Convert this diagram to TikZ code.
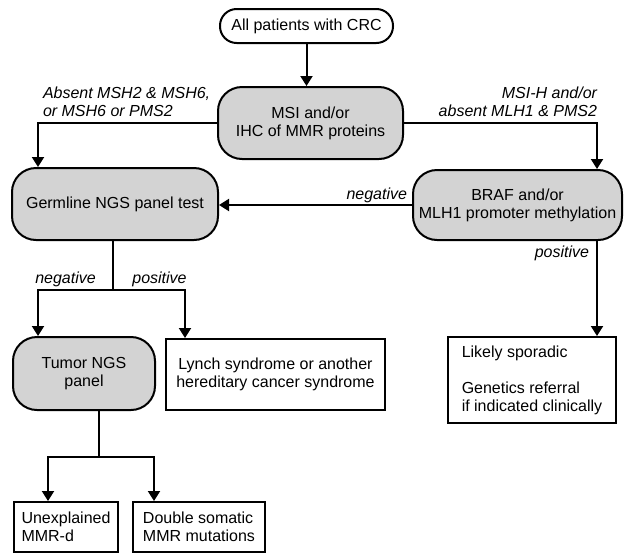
\documentclass[tikz,border=0pt]{standalone}
\usepackage{fontspec}
\setmainfont{Liberation Sans}
\usetikzlibrary{arrows.meta}
\definecolor{testgray}{RGB}{211,211,211}

\tikzset{%
          start pill/.style={
            draw,
            rounded corners=12.5pt,
            minimum width=129.75pt,
            minimum height=25.5pt,
            inner sep=0pt
          },
          test node/.style={
            draw,
            fill=testgray,
            rounded corners=18pt,
            align=center,
            inner sep=0pt
          },
          result box/.style={
            draw,
            align=left,
            inner sep=0pt
          },
          branch label/.style={
            font=\fontsize{12}{13.5}\selectfont\itshape,
            inner sep=0pt
          },
        }

\begin{document}
\begin{tikzpicture}[x=0.75pt, y=-0.75pt, >={Triangle[width=9pt,length=7.5pt]}, line width=1.5pt, font=\fontsize{12}{13.5}\selectfont]
        \useasboundingbox (0,0) rectangle (624,554);

        \node [start pill] (all-crc) at (306.5,26) {All patients with CRC};
        \node [test node, minimum width=138.75pt, minimum height=54pt] (msi-ihc) at (310.5,123) {MSI and/or\\IHC of MMR proteins};
        \node [test node, minimum width=154.5pt, minimum height=54pt] (germline) at (115,204) {Germline NGS panel test};
        \node [test node, minimum width=156.75pt, minimum height=52.5pt] (braf) at (517.5,205) {BRAF and/or\\MLH1 promoter methylation};
        \node [test node, minimum width=106.5pt, minimum height=54.75pt] (tumor) at (84,373.5) {Tumor NGS\\panel};

        \node [result box, align=center, minimum width=164.25pt, minimum height=53.25pt] (lynch) at (275.5,374.5) {Lynch syndrome or another\\hereditary cancer syndrome};
        \node [result box, minimum width=126pt, minimum height=64.5pt] (sporadic) at (532,380) {Likely sporadic\\[13.5pt]Genetics referral\\if indicated clinically};
        \node [result box, minimum width=78pt, minimum height=37.5pt] (unexplained) at (66,527) {Unexplained\\MMR-d};
        \node [result box, minimum width=99pt, minimum height=37.5pt] (somatic) at (199,527) {Double somatic\\MMR mutations};

        \coordinate (left-drop) at (38,0);
        \coordinate (right-drop) at (597,0);
        \coordinate (lynch-drop) at (185,0);
        \coordinate (germline-split) at (113,290);
        \coordinate (tumor-split) at (99,457);
        \coordinate (unexplained-drop) at (48,0);
        \coordinate (somatic-drop) at (154,0);

        \path [draw, ->] (all-crc) -- (all-crc |- msi-ihc.north);
        \path [draw, ->] (msi-ihc.west) -| (germline.north -| left-drop);
        \path [draw, ->] (msi-ihc.east) -| (braf.north -| right-drop);
        \path [draw, ->] (braf.west) -- (germline.east |- braf.west);
        \path [draw, ->] (braf.south -| right-drop) -- (sporadic.north -| right-drop);

        \path [draw] (germline.south -| germline-split) -- (germline-split);
        \path [draw, ->] (germline-split) -| (tumor.north -| left-drop);
        \path [draw, ->] (germline-split) -| (lynch.north -| lynch-drop);

        \path [draw] (tumor.south -| tumor-split) -- (tumor-split);
        \path [draw, ->] (tumor-split) -| (unexplained.north -| unexplained-drop);
        \path [draw, ->] (tumor-split) -| (somatic.north -| somatic-drop);

        \node [branch label, anchor=west, align=left] (absent-msh) at (42,101.5) {Absent MSH2 \& MSH6,\\or MSH6 or PMS2};
        \node [branch label, anchor=east, align=right] (msi-high) at (598,101.5) {MSI-H and/or\\absent MLH1 \& PMS2};
        \node [branch label, anchor=east] (braf-neg) at (408,195) {negative};
        \node [branch label, anchor=east] (braf-pos) at (590,253) {positive};
        \node [branch label] (germline-neg) at (65.5,279) {negative};
        \node [branch label] (germline-pos) at (159.5,279) {positive};

        \end{tikzpicture}
\end{document}
